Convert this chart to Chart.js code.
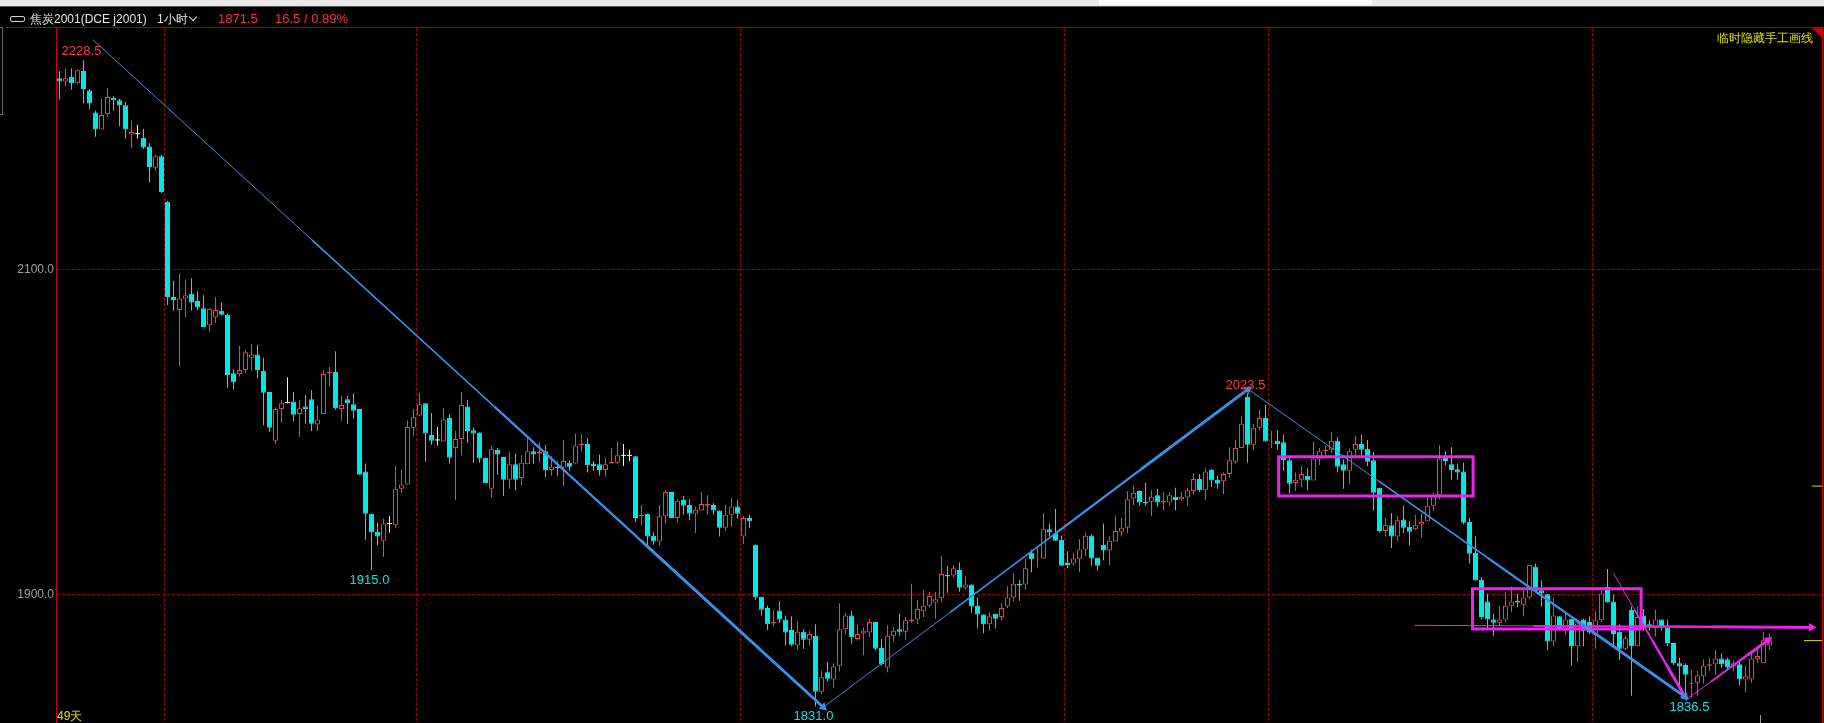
<!DOCTYPE html>
<html>
<head>
<meta charset="utf-8">
<script src="https://cdn.jsdelivr.net/npm/chart.js@4.4.0/dist/chart.umd.min.js"></script>
<style>
    html, body { margin: 0; padding: 0; background: #000; overflow: hidden; }
    #wrap { position: relative; width: 1824px; height: 723px; font-family: "Liberation Sans", Arial, sans-serif; }
    #kline { position: absolute; left: 0; top: 0; }
    .abs { position: absolute; white-space: nowrap; }
    .hdr { top: 12px; font-size: 12px; line-height: 14px; color: #e6e6e6; }
    .num { top: 11px; font-size: 13px; line-height: 16px; color: #ff3232; }
    .link { width: 13px; height: 4px; border: 1.5px solid #d0d0d0; border-radius: 2px; }
    .chev { width: 5px; height: 5px; border-right: 1.5px solid #ddd; border-bottom: 1.5px solid #ddd; transform: rotate(45deg); }
    .yel { color: #e0e000; }
</style>
</head>
<body>
<div id="wrap">
    <canvas id="kline" width="1824" height="723"></canvas>

    <div class="abs" style="left:0;top:0;width:1824px;height:6px;background:#e9e9e9"></div>
    <div class="abs" style="left:1099px;top:0;width:273px;height:5px;background:#fff"></div>
    <div class="abs" style="left:0;top:6px;width:1824px;height:1px;background:#555"></div>

    <div class="abs link" style="left:10px;top:16px"></div>
    <div class="abs hdr" style="left:30px">焦炭2001(DCE j2001)</div>
    <div class="abs hdr" style="left:157px">1小时</div>
    <div class="abs chev" style="left:190px;top:14px"></div>
    <div class="abs num" style="left:218px">1871.5</div>
    <div class="abs num" style="left:275px">16.5 / 0.89%</div>

    <div class="abs" style="left:6px;top:27px;width:1818px;height:1px;background:#b40000"></div>
    <div class="abs" style="left:56px;top:27px;width:1px;height:696px;background:#c80000"></div>
    <div class="abs" style="left:1822px;top:27px;width:1px;height:696px;background:#c80000"></div>
    <div class="abs" style="left:1812px;top:28px;width:0;height:0;border-top:10px solid #c80000;border-left:10px solid transparent"></div>
    <div class="abs" style="left:-1px;top:27px;width:3px;height:86px;border:1px solid #606060;border-left:none"></div>
    <div class="abs" style="left:1760px;top:715px;width:1px;height:8px;background:#9a9a9a"></div>

    <div class="abs yel" style="left:1717px;top:30px;font-size:12px">临时隐藏手工画线</div>
    <div class="abs yel" style="left:57px;top:708px;font-size:12px">49天</div>
</div>

<script>
// hourly bars, oldest first
const openP = [
    2217.5, 2215.5, 2218.5, 2214.5, 2222, 2210, 2196.5, 2186, 2195.5, 2205.5,
    2204, 2201, 2183, 2183.5, 2181, 2175.5, 2162.5, 2169.5, 2141.5, 2083,
    2075, 2082, 2085, 2080.5, 2076, 2065.5, 2070.5, 2074.5, 2072, 2036,
    2035.5, 2038, 2045.5, 2047.5, 2037.5, 2024.5, 1994.5, 2014, 2018, 2018.5,
    2011, 2015.5, 2020, 2004.5, 2011, 2036, 2037, 2014, 2020, 2017,
    2014, 1975.5, 1949.5, 1938.5, 1933, 1943.5, 1942.5, 1965, 1967.5, 2002.5,
    2010, 2017.5, 1998, 1995, 1994, 2008.5, 1990, 1995.5, 2015.5, 2001,
    1999.5, 1984, 1965, 1989, 1984.5, 1970.5, 1980, 1971.5, 1980, 1988,
    1986.5, 1988, 1976.5, 1978.5, 1978, 1981, 1980.5, 1991.5, 1992.5, 1980.5,
    1980, 1976.5, 1980.5, 1981, 1985.5, 1985.5, 1985, 1948, 1949.5, 1936,
    1932.5, 1948, 1963, 1947, 1958, 1955, 1949.5, 1951.5, 1954.5, 1955,
    1951.5, 1941, 1949, 1954, 1935.5, 1947, 1930.5, 1898.5, 1891.5, 1882,
    1890, 1884.5, 1878, 1868.5, 1877, 1872, 1874.5, 1840, 1852, 1847.5,
    1856, 1878.5, 1887, 1872.5, 1876, 1876.5, 1883, 1867, 1855, 1874.5,
    1878.5, 1877, 1883.5, 1884.5, 1889.5, 1893, 1895, 1897.5, 1912, 1911.5,
    1915, 1904, 1906, 1893, 1887.5, 1881.5, 1888, 1886, 1892.5, 1898,
    1906.5, 1906, 1925.5, 1921.5, 1922, 1940, 1937.5, 1933.5, 1919.5, 1919,
    1921.5, 1927.5, 1936, 1922.5, 1930.5, 1927, 1932.5, 1938.5, 1941, 1959,
    1963.5, 1957, 1957, 1961, 1956.5, 1956.5, 1960, 1958.5, 1959.5, 1963.5,
    1971, 1964, 1976.5, 1970.5, 1969.5, 1974, 1981.5, 1990, 2021.5, 1992,
    2002.5, 2008.5, 1994, 1994.5, 1993.5, 1982.5, 1968.5, 1970.5, 1973, 1970,
    1983, 1988, 1989, 1994.5, 1980, 1976, 1989, 1992.5, 1989.5, 1982.5,
    1965.5, 1939, 1942.5, 1935.5, 1946, 1941.5, 1940, 1943, 1945, 1954.5,
    1961, 1984, 1980, 1977, 1975.5, 1944.5, 1925.5, 1909, 1895.5, 1884.5,
    1882.5, 1884.5, 1893, 1896, 1893.5, 1898, 1917, 1902.5, 1900, 1871,
    1886.5, 1877.5, 1885, 1868, 1884.5, 1883, 1875, 1884, 1904.5, 1895.5,
    1877, 1866.5, 1890.5, 1868, 1887, 1881.5, 1879, 1884.5, 1879.5, 1870,
    1857.5, 1856.5, 1845, 1845.5, 1849.5, 1856, 1857, 1860.5, 1860, 1855.5,
    1857, 1847.5, 1847.5, 1860, 1857.5, 1868.5
];
const highP = [
    2222, 2223.5, 2223.5, 2223, 2228.5, 2211, 2197.5, 2205, 2211.5, 2206.5,
    2205, 2203, 2191.5, 2189, 2186.5, 2177.5, 2170.5, 2170.5, 2142, 2093,
    2097.5, 2093.5, 2094.5, 2086.5, 2084, 2076, 2083, 2079.5, 2072.5, 2038.5,
    2053, 2050, 2054, 2053.5, 2045.5, 2024.5, 2015, 2019.5, 2033.5, 2024.5,
    2019.5, 2022.5, 2025.5, 2016, 2038, 2040, 2049.5, 2022, 2022, 2023.5,
    2014, 1980.5, 1949.5, 1944, 1946.5, 1948, 1979, 1977, 2007, 2014,
    2024, 2017.5, 2011.5, 2003, 2014.5, 2011, 2000.5, 2024.5, 2019.5, 2002.5,
    1999.5, 1984, 1991.5, 1990, 1984.5, 1987.5, 1986.5, 1985.5, 1996, 1990.5,
    1993.5, 1992, 1985, 1981.5, 1995, 1982.5, 1999, 1998.5, 1996, 1982,
    1986, 1984, 1990, 1994, 1992.5, 1989, 1985, 1955, 1949.5, 1938,
    1955, 1964, 1963, 1958.5, 1960.5, 1958.5, 1954, 1963, 1961, 1956,
    1951.5, 1955, 1959, 1958, 1948, 1949, 1930.5, 1898.5, 1893, 1890,
    1895.5, 1887, 1886.5, 1883.5, 1878.5, 1877.5, 1881.5, 1853, 1858.5, 1857.5,
    1894.5, 1888.5, 1889.5, 1881.5, 1879.5, 1885, 1883, 1872.5, 1881, 1880,
    1888, 1886, 1906.5, 1896.5, 1902.5, 1901.5, 1901.5, 1923.5, 1917.5, 1918,
    1919.5, 1911, 1906, 1898, 1887.5, 1889, 1888, 1895, 1905, 1913,
    1909, 1922, 1927.5, 1928.5, 1950, 1943.5, 1952.5, 1936, 1926.5, 1925.5,
    1934, 1938, 1937, 1922.5, 1943.5, 1935.5, 1948.5, 1947, 1963.5, 1967,
    1964, 1968.5, 1964, 1965, 1963, 1963, 1965.5, 1963, 1965.5, 1974.5,
    1974, 1977.5, 1977, 1973, 1975, 1990.5, 1995, 2009.5, 2023.5, 2005,
    2013.5, 2016.5, 2000.5, 2001, 1998, 1984, 1975, 1979, 1977.5, 1994,
    1990, 1991.5, 2000, 1997, 1983, 1989.5, 1997.5, 1998, 1995, 1987.5,
    1965.5, 1947, 1950, 1948, 1954.5, 1945, 1949, 1950, 1959.5, 1962.5,
    1991.5, 1988, 1990.5, 1980.5, 1981, 1947, 1935.5, 1910.5, 1900.5, 1888,
    1893, 1901.5, 1905, 1900.5, 1902.5, 1918, 1919, 1908.5, 1900, 1898,
    1886.5, 1888, 1885, 1884, 1885, 1886.5, 1889.5, 1903.5, 1915.5, 1899.5,
    1881.5, 1874.5, 1892.5, 1892.5, 1891, 1884, 1890.5, 1884.5, 1884.5, 1870,
    1861, 1857.5, 1853.5, 1853, 1860, 1861, 1865.5, 1863.5, 1861, 1859.5,
    1859, 1856, 1864, 1867.5, 1877, 1876
];
const lowP = [
    2204.5, 2212.5, 2210.5, 2214, 2202, 2198.5, 2181.5, 2186, 2193.5, 2197.5,
    2188, 2180.5, 2174.5, 2180.5, 2174, 2153.5, 2160.5, 2147, 2078, 2074.5,
    2040, 2070.5, 2074.5, 2075, 2064.5, 2061.5, 2067, 2071.5, 2027, 2026,
    2034, 2036, 2037.5, 2033, 2004, 2000, 1992.5, 2005.5, 2017.5, 2006.5,
    1997, 2005, 2000.5, 2000.5, 2011, 2028, 2013.5, 2007, 2005, 2008,
    1973.5, 1933.5, 1915, 1930, 1923, 1938, 1941, 1962.5, 1967.5, 1997.5,
    2009.5, 1981.5, 1992, 1991.5, 1994, 1980.5, 1958, 1985.5, 1993, 1981,
    1981, 1968.5, 1959.5, 1973.5, 1960.5, 1965, 1964, 1967, 1980, 1980.5,
    1981, 1972, 1973, 1973, 1966.5, 1976, 1980, 1988, 1975, 1976,
    1973, 1972.5, 1980.5, 1980, 1979, 1982, 1944.5, 1942.5, 1928.5, 1930.5,
    1930, 1943.5, 1947, 1944.5, 1949, 1945.5, 1937.5, 1951.5, 1949, 1949,
    1935.5, 1939, 1941.5, 1946.5, 1931, 1941, 1896.5, 1887, 1878, 1880.5,
    1882.5, 1868.5, 1868, 1866, 1866.5, 1868.5, 1831, 1838.5, 1846.5, 1842.5,
    1852.5, 1875.5, 1869.5, 1871.5, 1862.5, 1873.5, 1865.5, 1856, 1852, 1871,
    1874.5, 1872, 1882.5, 1881.5, 1886, 1892, 1885, 1895, 1901, 1910.5,
    1901.5, 1903, 1888.5, 1879, 1876, 1877.5, 1879, 1884, 1891.5, 1895.5,
    1896, 1903, 1913.5, 1916.5, 1922, 1935.5, 1933, 1917.5, 1916, 1917.5,
    1913.5, 1923.5, 1917.5, 1914.5, 1921, 1918, 1932.5, 1935.5, 1937.5, 1955,
    1954.5, 1954.5, 1948, 1954, 1951.5, 1954.5, 1951.5, 1957.5, 1954.5, 1961.5,
    1963, 1958, 1966, 1965, 1961.5, 1971.5, 1980.5, 1990, 1981, 1989,
    2001, 1994, 1990, 1989, 1976, 1962, 1963.5, 1966, 1964, 1970,
    1979.5, 1985, 1987, 1975, 1965, 1968, 1984.5, 1984, 1979, 1951.5,
    1938, 1935.5, 1928.5, 1933, 1937.5, 1930, 1939.5, 1935, 1945, 1951.5,
    1958.5, 1979.5, 1970.5, 1970.5, 1943, 1919, 1908.5, 1884.5, 1878, 1874.5,
    1880.5, 1883, 1889, 1892, 1886.5, 1897, 1902, 1892.5, 1865.5, 1868,
    1877.5, 1875, 1856, 1858.5, 1868, 1875.5, 1866.5, 1883, 1895, 1868,
    1859.5, 1865.5, 1837.5, 1868, 1877.5, 1877.5, 1874, 1877.5, 1868, 1856.5,
    1842.5, 1837, 1836.5, 1837.5, 1845, 1853, 1850.5, 1855, 1853, 1852.5,
    1844, 1839.5, 1845.5, 1857.5, 1857.5, 1866
];
const closeP = [
    2215.5, 2217.5, 2214.5, 2222.5, 2211, 2202, 2186, 2195, 2206, 2204,
    2201, 2186, 2184.5, 2183.5, 2175, 2163, 2169.5, 2147.5, 2083, 2081,
    2082, 2084, 2079.5, 2076.5, 2064.5, 2075.5, 2075, 2072, 2035, 2030.5,
    2038, 2049, 2047.5, 2038, 2024, 2002.5, 2014, 2017.5, 2018, 2010.5,
    2014.5, 2014, 2005, 2007.5, 2035.5, 2037, 2014.5, 2016.5, 2017.5, 2013,
    1973.5, 1949.5, 1938, 1935.5, 1943.5, 1943.5, 1965, 1967.5, 2003, 2009,
    2017, 1999, 1994.5, 1995, 2007.5, 1984, 1995.5, 2016.5, 2000.5, 1999,
    1983.5, 1968.5, 1989.5, 1986, 1970.5, 1980, 1970.5, 1981, 1988, 1986,
    1987.5, 1976.5, 1978.5, 1977.5, 1982, 1978.5, 1991.5, 1992.5, 1979.5, 1979,
    1976.5, 1980, 1981.5, 1985.5, 1985.5, 1985.5, 1947, 1949, 1935.5, 1932.5,
    1948, 1963, 1947, 1957.5, 1954.5, 1949.5, 1952, 1955.5, 1955.5, 1951.5,
    1941, 1949, 1954, 1949.5, 1947, 1945, 1898, 1890.5, 1881.5, 1883,
    1884.5, 1876.5, 1869, 1877, 1872, 1875.5, 1840, 1849, 1848, 1855.5,
    1878.5, 1887, 1873.5, 1875.5, 1877.5, 1883, 1866.5, 1857, 1874.5, 1877.5,
    1877, 1884, 1884.5, 1891, 1893, 1899, 1897, 1912.5, 1911, 1916,
    1904, 1906, 1892.5, 1887.5, 1881.5, 1886.5, 1885, 1891.5, 1898, 1906.5,
    1905.5, 1916, 1921.5, 1922, 1940, 1938, 1933, 1917.5, 1918, 1922,
    1927.5, 1936, 1922, 1917.5, 1927, 1933, 1939, 1941, 1958.5, 1962.5,
    1956.5, 1956, 1960, 1956.5, 1957.5, 1961, 1958, 1960, 1964, 1971,
    1964, 1975.5, 1970, 1968, 1974, 1982.5, 1990, 2005, 1992, 2002.5,
    2008.5, 1994, 1994.5, 1992.5, 1982.5, 1968, 1970.5, 1974, 1970, 1983.5,
    1988, 1989, 1994.5, 1978.5, 1976, 1988, 1992.5, 1989, 1981.5, 1962.5,
    1939, 1942.5, 1935.5, 1945.5, 1941, 1938.5, 1942.5, 1944.5, 1954.5, 1961,
    1983.5, 1982, 1976.5, 1975, 1944, 1925, 1908.5, 1886, 1884.5, 1882.5,
    1884.5, 1893, 1895.5, 1895, 1898, 1918, 1902, 1900.5, 1871, 1887,
    1878, 1884.5, 1868, 1882, 1877.5, 1876.5, 1884, 1900.5, 1895, 1875.5,
    1866.5, 1873, 1868, 1886, 1880.5, 1880.5, 1884.5, 1879.5, 1870, 1857.5,
    1855.5, 1850.5, 1845.5, 1850, 1856, 1857, 1860.5, 1857, 1855, 1857.5,
    1847.5, 1849.5, 1860.5, 1862, 1872, 1871.5
];

// axis setup
const yTicks = [1900, 2100];
const dayBreaks = [17.5, 59.5, 113.5, 167.5, 201.5, 255.5];

// high / low marks written on the chart
const markIdx = [4, 52, 126, 198, 272];
const markPrice = [2228.5, 1915.0, 1831.0, 2023.5, 1836.5];
const markSide = ['high', 'low', 'low', 'high', 'low'];

// hand drawn lines: [bar index, price]
const blueDown1 = [[5.6, 2241.2], [127.3, 1830.5]];
const blueUp = [[127.3, 1830.5], [198.1, 2026.2]];
const blueDown2 = [[198.1, 2026.2], [270.9, 1837.0]];
const pinkFlat = [[225.9, 1880.9], [292.0, 1879.7]];
const pinkDrop = [[259.0, 1912.9], [270.9, 1837.0]];
const pinkRise = [[271.2, 1835.4], [284.8, 1871.9]];
const pinkBox1 = [[203.2, 1984.7], [235.6, 1960.5]];
const pinkBox2 = [[235.5, 1903.4], [263.6, 1878.6]];
const lastPriceMark = [[290.75, 1871.5], [293.75, 1871.5]];
const oldPriceMark = [[292.1, 1966.6], [293.75, 1966.6]];

const upColor = '#ff3b3b';
const downColor = '#00e8e8';
const flatColor = '#f2f2f2';
const blue = '#3a8ee6';
const pink = '#ee22ee';
const gridColor = '#9a0000';

function candleColor(i) {
    if (closeP[i] > openP[i]) return upColor;
    if (closeP[i] < openP[i]) return downColor;
    return flatColor;
}

function toXY(pts) {
    return pts.map(p => ({ x: p[0], y: p[1] }));
}

function arrowRotation(pts) {
    return function(ctx) {
        const xs = ctx.chart.scales.x;
        const ys = ctx.chart.scales.y;
        const a = pts[0], b = pts[1];
        const dx = xs.getPixelForValue(b[0]) - xs.getPixelForValue(a[0]);
        const dy = ys.getPixelForValue(b[1]) - ys.getPixelForValue(a[1]);
        return Math.atan2(dx, -dy) * 180 / Math.PI;
    };
}

// the drawing tool paints lines thin at the start and wider toward the arrow
function taperedArrow(pts, color) {
    const stages = [[0, 1], [0.3, 1.6], [0.55, 2.2], [0.75, 2.8]];
    const a = pts[0], b = pts[1];
    return stages.map((st, k) => {
        const t = st[0];
        const start = [a[0] + (b[0] - a[0]) * t, a[1] + (b[1] - a[1]) * t];
        const last = k === stages.length - 1;
        return {
            type: 'line',
            data: toXY([start, b]),
            borderColor: color,
            borderWidth: st[1],
            borderCapStyle: 'round',
            pointRadius: ctx => (last && ctx.dataIndex === 1) ? 5 : 0,
            pointStyle: 'triangle',
            rotation: arrowRotation(pts),
            pointBackgroundColor: color,
            pointBorderWidth: 0,
            tension: 0,
            fill: false,
            order: 0
        };
    });
}

function boxLine(box, color) {
    const x0 = box[0][0], y0 = box[0][1], x1 = box[1][0], y1 = box[1][1];
    return {
        type: 'line',
        data: toXY([[x0, y0], [x1, y0], [x1, y1], [x0, y1], [x0, y0]]),
        borderColor: color,
        borderWidth: 3,
        borderJoinStyle: 'miter',
        borderCapStyle: 'square',
        pointRadius: 0,
        tension: 0,
        fill: false,
        order: 0
    };
}

function plainLine(pts, color, width) {
    return {
        type: 'line',
        data: toXY(pts),
        borderColor: color,
        borderWidth: width,
        pointRadius: 0,
        tension: 0,
        fill: false,
        order: 0
    };
}

const idx = openP.map((_, i) => i);

const wickSet = {
    type: 'bar',
    data: idx.map(i => ({ x: i, y: [lowP[i], highP[i]] })),
    backgroundColor: idx.map(candleColor),
    barThickness: 1,
    grouped: false,
    inflateAmount: 0,
    order: 3
};

const bodySet = {
    type: 'bar',
    data: idx.map(i => {
        const o = openP[i], c = closeP[i];
        // doji: give the flat bar one pixel of height
        return { x: i, y: o === c ? [o - 0.3, o + 0.3] : [o, c] };
    }),
    backgroundColor: idx.map(i => closeP[i] > openP[i] ? '#000000' : candleColor(i)),
    borderColor: idx.map(candleColor),
    borderWidth: idx.map(i => openP[i] === closeP[i] ? 0 : 1),
    borderSkipped: false,
    barThickness: 5,
    grouped: false,
    inflateAmount: 0,
    order: 2
};

const markPlugin = {
    id: 'marks',
    afterDatasetsDraw(chart) {
        const { ctx } = chart;
        const xs = chart.scales.x, ys = chart.scales.y;
        ctx.save();
        ctx.font = '13px "Liberation Sans", Arial, sans-serif';
        ctx.textAlign = 'center';
        ctx.textBaseline = 'alphabetic';
        markIdx.forEach((bar, k) => {
            const px = xs.getPixelForValue(bar) - 2;
            const py = ys.getPixelForValue(markPrice[k]);
            if (markSide[k] === 'high') {
                ctx.fillStyle = upColor;
                ctx.fillText(markPrice[k].toFixed(1), px, py - 5);
            } else {
                ctx.fillStyle = downColor;
                ctx.fillText(markPrice[k].toFixed(1), px, py + 14);
            }
        });
        ctx.restore();
    }
};

Chart.defaults.font.family = '"Liberation Sans", Arial, sans-serif';

const datasets = [
    ...taperedArrow(blueDown1, blue),
    ...taperedArrow(blueUp, blue),
    ...taperedArrow(blueDown2, blue),
    ...taperedArrow(pinkFlat, pink),
    ...taperedArrow(pinkDrop, pink),
    ...taperedArrow(pinkRise, pink),
    boxLine(pinkBox1, pink),
    boxLine(pinkBox2, pink),
    plainLine(lastPriceMark, '#e0e000', 1),
    plainLine(oldPriceMark, '#e0e000', 1),
    bodySet,
    wickSet
];

new Chart(document.getElementById('kline'), {
    type: 'bar',
    data: { datasets: datasets },
    options: {
        responsive: false,
        animation: false,
        devicePixelRatio: 1,
        events: [],
        layout: {
            autoPadding: false,
            padding: { top: 28, right: 2, left: 0, bottom: 0 }
        },
        plugins: {
            legend: { display: false },
            tooltip: { enabled: false }
        },
        scales: {
            x: {
                type: 'linear',
                min: -2.5 / 6,
                max: -2.5 / 6 + 1765 / 6,
                offset: false,
                afterBuildTicks: s => { s.ticks = dayBreaks.map(v => ({ value: v })); },
                afterFit: s => {
                    s.height = 0;
                    s.paddingLeft = 0; s.paddingRight = 0;
                    s.paddingTop = 0; s.paddingBottom = 0;
                },
                grid: { color: gridColor, lineWidth: 1, drawTicks: false, offset: false },
                border: { display: false, dash: [3, 2] },
                ticks: { display: false }
            },
            y: {
                type: 'linear',
                position: 'left',
                min: 1820.8,
                max: 2248.5,
                afterBuildTicks: s => { s.ticks = yTicks.map(v => ({ value: v })); },
                afterFit: s => {
                    // keep the plot running to the bottom edge, labels sit inside
                    s.width = 57;
                    s.paddingTop = 0; s.paddingBottom = 0;
                },
                grid: { color: gridColor, lineWidth: 1, drawTicks: false },
                border: { display: false, dash: [3, 2] },
                ticks: {
                    color: '#a0a0a0',
                    font: { size: 12 },
                    padding: 3,
                    callback: v => Number(v).toFixed(1)
                }
            }
        }
    },
    plugins: [markPlugin]
});
</script>
</body>
</html>
